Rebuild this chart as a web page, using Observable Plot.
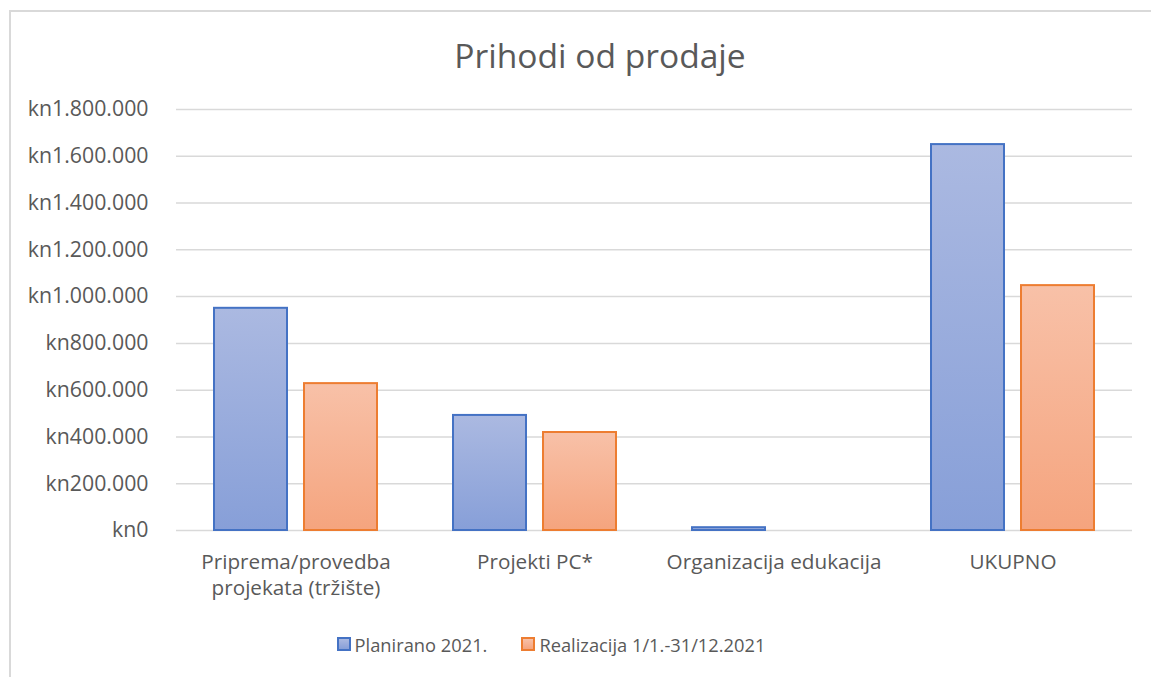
<!DOCTYPE html>
<html>
<head>
<meta charset="utf-8">
<script src="https://cdn.jsdelivr.net/npm/d3@7"></script>
<script src="https://cdn.jsdelivr.net/npm/@observablehq/plot@0.6"></script>
<style>
  html, body { margin: 0; padding: 0; background: #fff; width: 1151px; height: 677px; overflow: hidden; font-family: "Open Sans", sans-serif; color: #595959; }
  #frame { position: absolute; left: 9px; top: 10px; width: 1200px; height: 700px; border: 2px solid #d9d9d9; box-sizing: border-box; }
  #title { position: absolute; left: 0; width: 1200px; top: 32px; text-align: center; font-size: 33.6px; color: #595959; }
  #chart { position: absolute; left: 0; top: 80px; }
  #legend { position: absolute; left: 0; width: 1102px; top: 631px; text-align: center; font-size: 18.3px; color: #595959; white-space: nowrap; }
  .item { display: inline-flex; align-items: center; margin: 0 17px; }
  .sw { width: 10px; height: 10px; border: 2px solid; margin-right: 4px; }
</style>
</head>
<body>
<div id="frame"></div>
<div id="title">Prihodi od prodaje</div>
<div id="chart"></div>
<div id="legend"></div>
<script>
const categories = ["Priprema/provedba\nprojekata (tržište)", "Projekti PC*", "Organizacija edukacija", "UKUPNO"];
const seriesNames = ["Planirano 2021.", "Realizacija 1/1.-31/12.2021"];
const planned = [950000, 492000, 12000, 1650000];
const realized = [628000, 419000, 0, 1047000];
const yTicks = [0, 200000, 400000, 600000, 800000, 1000000, 1200000, 1400000, 1600000, 1800000];

const strokes = ["#4472c4", "#ed7d31"];
const grads = [["#abb9e1", "#879fd8"], ["#f8c1a8", "#f5a47e"]];
const gradIds = ["gBlue", "gOrange"];

const data = [];
categories.forEach((c, i) => {
  data.push({category: c, series: seriesNames[0], value: planned[i]});
  data.push({category: c, series: seriesNames[1], value: realized[i]});
});

const loc = d3.formatLocale({decimal: ",", thousands: ".", grouping: [3], currency: ["kn", ""]});
const fmt = d => "kn" + loc.format(",")(d);

const plot = Plot.plot({
  width: 1151,
  height: 530,
  marginLeft: 174,
  marginRight: 18,
  marginTop: 29,
  marginBottom: 80,
  style: {fontFamily: "'Open Sans', sans-serif", fontSize: "20px", color: "#595959", background: "transparent"},
  fx: {domain: categories, padding: 0, label: null},
  x: {domain: seriesNames, paddingInner: 0.19, paddingOuter: 0.41, axis: null},
  y: {domain: [0, 1800000], axis: null},
  marks: [
    Plot.ruleY(yTicks, {y: d => d, stroke: "#d9d9d9", strokeWidth: 1.5}),
    Plot.axisY(yTicks, {tickSize: 0, tickPadding: 28, tickFormat: fmt, fill: "#595959", fontSize: 21.3, label: null}),
    Plot.axisFx({anchor: "bottom", tickSize: 0, tickPadding: 21, fill: "#595959", fontSize: 20.7, lineHeight: 1.22, label: null}),
    Plot.barY(data.filter(d => d.series === seriesNames[0]), {fx: "category", x: "series", y: "value", fill: "url(#gBlue)", stroke: strokes[0], strokeWidth: 2}),
    Plot.barY(data.filter(d => d.series === seriesNames[1]), {fx: "category", x: "series", y: "value", fill: "url(#gOrange)", stroke: strokes[1], strokeWidth: 2})
  ]
});

const defs = d3.select(plot).insert("defs", ":first-child");
gradIds.forEach((id, i) => {
  const g = defs.append("linearGradient").attr("id", id).attr("x1", 0).attr("y1", 0).attr("x2", 0).attr("y2", 1);
  g.append("stop").attr("offset", "0%").attr("stop-color", grads[i][0]);
  g.append("stop").attr("offset", "100%").attr("stop-color", grads[i][1]);
});
document.getElementById("chart").appendChild(plot);

const legend = document.getElementById("legend");
seriesNames.forEach((s, i) => {
  const item = document.createElement("span");
  item.className = "item";
  const sw = document.createElement("span");
  sw.className = "sw";
  sw.style.borderColor = strokes[i];
  sw.style.background = `linear-gradient(${grads[i][0]}, ${grads[i][1]})`;
  item.appendChild(sw);
  item.appendChild(document.createTextNode(s));
  legend.appendChild(item);
});
</script>
</body>
</html>
